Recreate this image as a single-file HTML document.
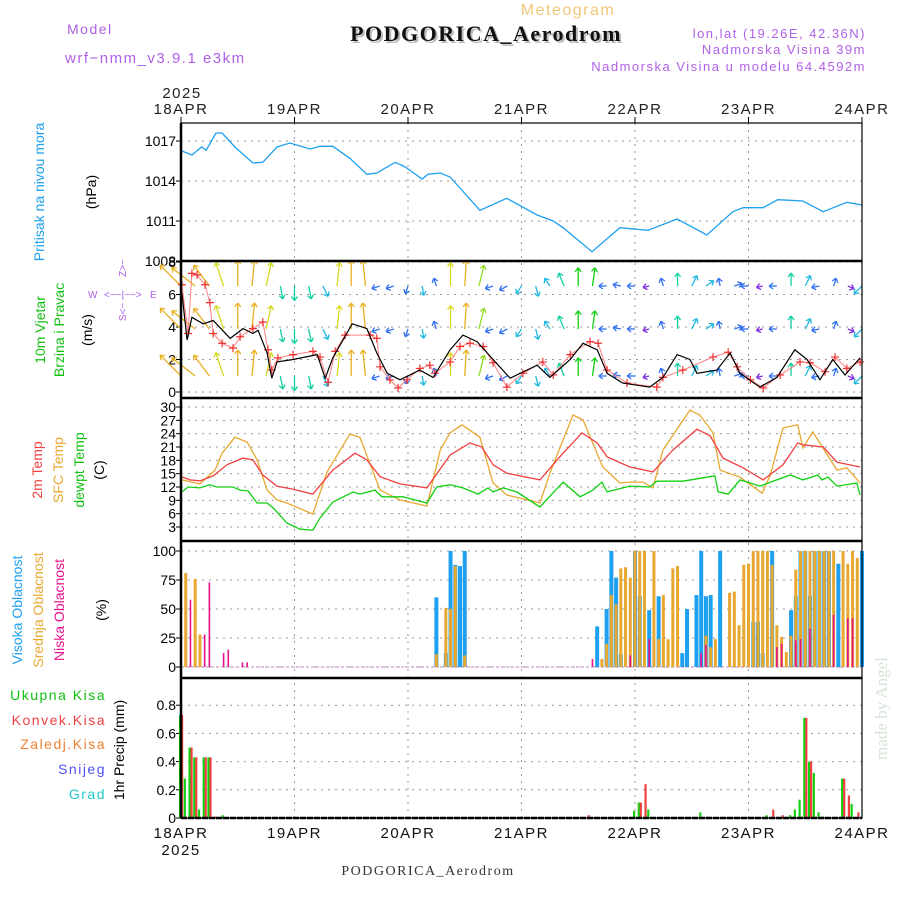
<!DOCTYPE html>
<html><head><meta charset="utf-8"><style>
html,body{margin:0;padding:0;background:#fff;}
svg{display:block;font-family:"Liberation Sans",sans-serif;}
.t{letter-spacing:1.5px;}
</style></head><body>
<svg id="c" width="900" height="900" viewBox="0 0 900 900">
<g>
<text x="67" y="34" fill="#b060e8" font-size="14" class="t">Model</text>
<text x="65" y="63" fill="#b060e8" font-size="15" class="t">wrf−nmm_v3.9.1 e3km</text>
<text x="568" y="15" fill="#f0c878" font-size="16" text-anchor="middle" class="t">Meteogram</text>
<text x="488" y="43" fill="#bbb" font-size="22" font-weight="bold" text-anchor="middle" font-family="Liberation Serif,serif" class="t">PODGORICA_Aerodrom</text>
<text x="486" y="41" fill="#111" font-size="22" font-weight="bold" text-anchor="middle" font-family="Liberation Serif,serif" class="t">PODGORICA_Aerodrom</text>
<text x="866" y="38" fill="#b060e8" font-size="13" text-anchor="end" class="t">lon,lat (19.26E, 42.36N)</text>
<text x="866" y="54" fill="#b060e8" font-size="13" text-anchor="end" class="t">Nadmorska Visina 39m</text>
<text x="866" y="71" fill="#b060e8" font-size="13" text-anchor="end" class="t">Nadmorska Visina u modelu 64.4592m</text>
<text x="428" y="875" fill="#333" font-size="14" text-anchor="middle" font-family="Liberation Serif,serif" class="t">PODGORICA_Aerodrom</text>
<text transform="translate(887,760) rotate(-90)" fill="#d8e4d8" font-size="17" font-family="Liberation Serif,serif">made by Angel</text>
</g>
<g>
<text transform="translate(44,192) rotate(-90)" text-anchor="middle" fill="#1ea0f0" font-size="14">Pritisak na nivou mora</text>
<text transform="translate(96,192) rotate(-90)" text-anchor="middle" fill="#000" font-size="14">(hPa)</text>
<text transform="translate(45,330) rotate(-90)" text-anchor="middle" fill="#10c010" font-size="14">10m Vjetar</text>
<text transform="translate(64,330) rotate(-90)" text-anchor="middle" fill="#10c010" font-size="14">Brzina i Pravac</text>
<text transform="translate(92,330) rotate(-90)" text-anchor="middle" fill="#000" font-size="14">(m/s)</text>
<g fill="#b060e8" font-size="10">
<text x="88" y="298">W</text><text x="104" y="298">&lt;−−|−−&gt;</text><text x="150" y="298">E</text>
<text transform="translate(126,268) rotate(-90)" text-anchor="middle">Z&gt;−</text>
<text transform="translate(126,312) rotate(-90)" text-anchor="middle">S&lt;−</text>
</g>
<text transform="translate(42,470) rotate(-90)" text-anchor="middle" fill="#f04040" font-size="14">2m Temp</text>
<text transform="translate(63,470) rotate(-90)" text-anchor="middle" fill="#e8a830" font-size="14">SFC Temp</text>
<text transform="translate(84,470) rotate(-90)" text-anchor="middle" fill="#10c010" font-size="14">dewpt Temp</text>
<text transform="translate(104,470) rotate(-90)" text-anchor="middle" fill="#000" font-size="14">(C)</text>
<text transform="translate(22,610) rotate(-90)" text-anchor="middle" fill="#1ea0f0" font-size="14">Visoka Oblacnost</text>
<text transform="translate(43,610) rotate(-90)" text-anchor="middle" fill="#e8a830" font-size="14">Srednja Oblacnost</text>
<text transform="translate(64,610) rotate(-90)" text-anchor="middle" fill="#e8108c" font-size="14">Niska Oblacnost</text>
<text transform="translate(106,610) rotate(-90)" text-anchor="middle" fill="#000" font-size="14">(%)</text>
<g font-size="14" text-anchor="end" class="t">
<text x="106" y="700" fill="#10c010">Ukupna Kisa</text>
<text x="106" y="725" fill="#f04040">Konvek.Kisa</text>
<text x="106" y="749" fill="#f08030">Zaledj.Kisa</text>
<text x="106" y="774" fill="#5050f0">Snijeg</text>
<text x="106" y="799" fill="#20c8c8">Grad</text>
</g>
<text transform="translate(124,750) rotate(-90)" text-anchor="middle" fill="#000" font-size="14">1hr Precip (mm)</text>
</g>
<g id="plot"></g>
</svg>
<script>
const pHours=[0.2,2.3,4.4,5.3,7.4,8.7,11.4,15.2,17.3,20.3,23.0,27.3,29.4,32.1,35.7,39.3,41.4,45.3,47.4,51.0,52.2,54.8,56.9,63.2,68.9,75.3,78.7,80.8,86.9,92.8,98.7,104.9,111.2,116.7,118.9,123.1,126.2,131.5,135.8,140.8,144];
const pVals=[1016.25,1015.95,1016.55,1016.3,1017.6,1017.6,1016.55,1015.35,1015.4,1016.55,1016.85,1016.4,1016.6,1016.6,1015.7,1014.5,1014.6,1015.4,1015.05,1014.15,1014.5,1014.6,1014.3,1011.8,1012.7,1011.45,1011.0,1010.5,1008.7,1010.5,1010.3,1011.15,1009.95,1011.7,1012.0,1012.0,1012.6,1012.5,1011.7,1012.4,1012.2];
const wsHours=[0.2,1.3,2.3,4.7,6.8,10.4,13.1,15.2,16.3,18.2,19.2,20.3,23.7,28.8,30.5,32.1,36.2,39.3,41.4,43.6,46.3,50.5,53.3,56.9,59.6,62.6,66.0,69.6,75.3,78.0,82.3,85.0,88.0,90.1,93.4,99.1,101.9,104.9,107.6,109.1,113.3,116.1,118.2,122.4,126.0,129.8,132.4,135.1,137.8,140.4,143.6];
const wsVals=[6.1,3.2,4.6,4.2,4.4,3.3,3.9,3.6,3.8,2.4,0.85,1.85,2.0,2.3,0.85,2.1,4.2,3.9,2.4,1.15,0.75,1.35,0.9,2.6,3.5,3.1,2.0,0.85,1.65,0.9,2.0,3.0,2.6,1.15,0.55,0.3,0.9,2.3,2.0,1.15,1.35,2.4,1.15,0.3,0.9,2.6,2.0,0.75,2.0,1.05,2.1];
const gHours=[0.2,1.5,2.3,3.4,5.1,6.1,6.8,8.7,11.0,12.5,15.2,17.3,18.4,19.2,20.5,23.7,27.9,29.4,31.1,32.6,34.7,40.0,41.4,42.1,44.2,45.9,47.8,50.5,52.6,53.7,56.9,59.0,61.1,63.9,66.0,68.9,72.3,76.5,78.7,82.3,86.5,88.2,90.1,94.3,100.6,101.9,106.1,112.5,115.7,117.6,120.4,123.1,126.7,130.9,133.0,136.2,138.3,140.8,143.6];
const gVals=[6.6,3.6,7.3,7.2,6.6,5.5,3.6,3.0,2.7,3.4,3.9,4.3,2.6,1.35,2.1,2.3,2.5,2.15,0.6,2.5,3.5,3.5,3.3,1.55,0.75,0.25,0.75,1.45,1.65,1.15,1.85,2.8,3.0,2.8,1.8,0.3,1.15,1.85,1.05,2.3,3.1,3.0,1.35,0.55,0.3,0.9,1.35,2.15,2.45,1.55,0.75,0.25,1.05,1.85,1.8,1.25,2.15,1.45,1.85];
const windU=[-4,-4.5,-3,-1.5,0,0.5,1,0.5,0,0.5,1,0.5,0,-0.5,-1.5,-1.5,-0.5,0.3,-0.5,0,0.3,1,-1.5,-1.5,-1,0.5,-1,-1,0,0.5,-1.5,-1.5,-1.5,-1.2,-0.5,0,1,1.5,-0.3,1.5,-1.5,-1.2,-1.5,0,1,-1.5,0.5,1.2,-1.5];
const windV=[4,3.5,4,4.5,5,5,4.5,-2.5,-2.8,-2.5,-2,4.5,5,5,-0.5,-0.5,-1.5,-1.8,1.5,4.5,5,4,-0.5,-0.8,-1.5,-2,1.5,2.5,3.5,3.5,0,0.3,0,-0.3,1.5,2.5,2,1,1.5,0.5,0,-0.3,0,2.5,2,-0.3,1.5,-0.5,-1.5];
const t2Hours=[0.2,1.9,4.0,6.8,9.7,13.1,15.2,17.3,20.3,23.7,27.9,32.1,36.8,39.3,42.1,46.3,52.0,56.9,61.1,63.6,66.0,68.9,75.9,80.1,84.8,88.0,90.1,94.9,99.8,104.0,109.1,111.9,114.6,118.9,123.1,127.3,130.4,131.5,135.8,138.7,143.6];
const t2Vals=[14.25,13.6,13.4,14.5,17,18.5,18.1,14.7,12.2,11.5,10.4,15.8,19.6,18.1,14.3,12.7,11.8,19.2,21.9,21,17,15.1,13.6,18.8,24.2,21.9,18.8,16.5,15.4,20.3,25,23.5,18.5,16.3,13.6,17,21.9,21.5,21,17.6,16.5];
const sfcHours=[0.2,4.0,7.2,8.7,11.4,14.0,16.1,18.2,20.3,22.4,27.9,30.9,35.7,37.8,42.1,46.3,52.0,54.8,56.9,59.4,63.2,66.0,68.9,75.9,78.0,82.9,85.0,89.2,92.8,94.9,97.7,99.8,101.9,107.6,109.7,112.5,114.0,118.2,122.9,124.6,127.3,130.4,131.5,133.6,135.1,138.7,140.8,143.6];
const sfcVals=[13.6,12.7,15.8,19.6,23.2,22.1,18.1,11.3,9.1,8.4,5.9,15.4,23.9,23.2,11.3,9.1,7.7,20.3,24.2,26,23.2,12.9,10.2,8.4,15.1,28.2,27.1,16.5,12.9,13.1,13.1,11.8,20.3,29.3,28.2,24.2,15.8,14.2,10.6,14.7,25.3,26,20.8,24.4,21.9,15.8,16.3,12.9];
const tdHours=[0.2,1.5,4.0,6.1,7.6,11.0,12.5,14.2,16.1,18.2,19.5,22.4,25.2,27.9,29.4,32.1,36.4,37.8,41.0,42.5,46.9,52.0,54.1,56.9,59.6,62.8,64.9,66.0,68.1,71.0,75.9,80.8,84.4,87.1,89.0,90.1,94.9,99.1,100.6,106.1,111.2,112.9,113.6,115.7,118.2,122.4,128.8,131.5,134.7,135.5,136.8,138.7,142.9,143.6];
const tdVals=[10.9,12,11.8,12.5,12,12,11.3,11.1,8.4,8.4,7.3,3.9,2.5,2.3,5,8.6,10.9,10.4,11.3,9.8,9.8,8.4,12,12.5,11.8,10.4,11.8,10.9,11.8,10.9,7.5,13.1,9.8,11.3,13.1,10.9,12.2,12,13.3,13.3,14.2,14.5,10.9,10.4,13.6,12.2,14.7,13.6,14.7,13.6,14.2,12.2,12.9,10.2];
const cloudHigh=[[54,60],[56,12],[57,100],[58,88],[59,87],[60,100],[88,35],[90,50],[91,100],[92,77],[93,11],[96,100],[97,61],[99,49],[101,61],[106,12],[107,50],[109,62],[110,100],[111,61],[112,62],[114,100],[121,39],[122,39],[123,12],[125,100],[129,49],[130,61],[131,100],[132,100],[133,61],[134,100],[135,100],[136,100],[137,100],[139,89],[144,100]];
const cloudMid=[[1,81],[3,76],[4,28],[54,11],[56,51],[57,50],[58,87],[60,10],[89,7],[90,20],[91,62],[92,54],[93,85],[94,86],[95,77],[96,100],[97,100],[98,100],[100,100],[101,24],[102,62],[103,24],[104,85],[105,87],[111,27],[112,17],[113,24],[116,64],[117,65],[118,36],[119,88],[120,89],[121,100],[122,100],[123,100],[124,100],[125,88],[126,36],[127,26],[128,13],[129,27],[130,84],[131,100],[132,100],[133,100],[134,100],[135,100],[136,100],[137,100],[138,100],[140,100],[141,89],[142,100],[143,94]];
const cloudLow=[[2,58],[5,28],[6,73],[9,12],[10,15],[13,4],[14,4],[87,7],[95,10],[99,24],[110,12],[111,19],[126,17],[127,20],[130,23],[131,24],[133,33],[138,45],[141,42],[142,42]];
const precipTotal=[[0,0.73],[1,0.28],[2,0.5],[3,0.43],[4,0.06],[5,0.43],[6,0.43],[9,0.02],[96,0.05],[97,0.11],[99,0.06],[110,0.04],[124,0.02],[129,0.02],[130,0.06],[131,0.13],[132,0.71],[133,0.40],[134,0.32],[135,0.04],[136,0.01],[140,0.28],[142,0.10]];
const precipConv=[[0,0.73],[2,0.5],[3,0.43],[5,0.43],[6,0.43],[7,0.01],[86,0.02],[97,0.11],[98,0.24],[111,0.01],[125,0.06],[127,0.02],[132,0.71],[133,0.40],[140,0.28],[141,0.16],[143,0.04]];
const dayLabels=["18APR","19APR","20APR","21APR","22APR","23APR","24APR"];
const pTicks=[1017,1014,1011,1008];
const wTicks=[0,2,4,6,8];
const tTicks=[3,6,9,12,15,18,21,24,27,30];
const cTicks=[0,25,50,75,100];
const rTicks=[0,0.2,0.4,0.6,0.8];

const NS="http://www.w3.org/2000/svg";
const L=181,R=862;
const X=h=>L+h*(R-L)/144;
const yP=p=>261-(p-1008)*120/9;
const yW=s=>392-s*16.25;
const yT=t=>527-(t-3)*120/27;
const yC=c=>667-c*1.16;
const yR=r=>818-r*141;
const plot=document.getElementById('plot');
function mk(tag,attrs,parent){const e=document.createElementNS(NS,tag);for(const k in attrs)e.setAttribute(k,attrs[k]);(parent||plot).appendChild(e);return e;}
function grp(name){const g=mk('g',{});return g;}

const panels=[[123,261],[261,398],[398,541],[541,678],[678,818]];
// grids
const grid=grp('grid');
for(let d=1;d<6;d++){const gl=mk('line',{x1:X(d*24),x2:X(d*24),y1:123,y2:818,stroke:'#999','stroke-dasharray':'2,5'},grid);}
function hgrid(ticks,f){ticks.forEach(v=>{const y=f(v);mk('line',{x1:L,x2:R,y1:y,y2:y,stroke:'#999','stroke-dasharray':'2,5'},grid);});}
hgrid(pTicks,yP);hgrid(wTicks,yW);hgrid(tTicks,yT);hgrid(cTicks,yC);hgrid(rTicks,yR);
// tick labels
function ylabels(ticks,f,name,fmt){const g=grp(name);ticks.forEach(v=>{const y=f(v);
const t=mk('text',{x:176,y:y+5,'text-anchor':'end','font-size':14,fill:'#000'},g);t.textContent=fmt?fmt(v):v;
mk('line',{x1:L-5,x2:L,y1:y,y2:y,stroke:'#000'},g);});}
ylabels(pTicks,yP,'pressure-y-ticks');ylabels(wTicks,yW,'wind-y-ticks');ylabels(tTicks,yT,'temp-y-ticks');
ylabels(cTicks,yC,'cloud-y-ticks');ylabels(rTicks,yR,'precip-y-ticks',v=>v===0?'0':v.toFixed(1));
// x labels
const xt=grp('x-axis-top'),xb=grp('x-axis-bottom');
dayLabels.forEach((d,i)=>{const x=X(i*24);
let t=mk('text',{x:x,y:114,'text-anchor':'middle','font-size':15,fill:'#222',class:'t'},xt);t.textContent=d;
mk('line',{x1:x,x2:x,y1:117,y2:123,stroke:'#000'},xt);
t=mk('text',{x:x,y:838,'text-anchor':'middle','font-size':15,fill:'#111',class:'t'},xb);t.textContent=d;});
let ty=mk('text',{x:182,y:98,'text-anchor':'middle','font-size':15,fill:'#222',class:'t'},xt);ty.textContent='2025';
ty=mk('text',{x:181,y:855,'text-anchor':'middle','font-size':15,fill:'#111',class:'t'},xb);ty.textContent='2025';

function line(hs,vs,f,color,name,w){let d='';hs.forEach((h,i)=>{d+=(i?'L':'M')+X(h).toFixed(1)+','+f(vs[i]).toFixed(1);});
const p=mk('path',{d:d,fill:'none',stroke:color,'stroke-width':w||1.3});return p;}
line(pHours,pVals,yP,'#1ea0f0','pressure-line');

// wind arrows
function wcol(m){return m>=4.8?'#e8b020':m>=4.2?'#d8d820':m>=3.6?'#90dc20':m>=3?'#10d010':m>=2.4?'#10d0a0':m>=1.8?'#20b8e0':m>=1.4?'#3070f0':'#8030e0';}
const wg=grp('wind-arrows');
[286,329,376].forEach(by=>{windU.forEach((u,i)=>{const v=windV[i];const m=Math.hypot(u,v);const c=wcol(m);
const x0=X(i*3),x1=x0+u*5.2,y1=by-v*5.2;const a=mk('line',{x1:x0,y1:by,x2:x1,y2:y1,stroke:c,'stroke-width':1.3},wg);


const ang=Math.atan2(y1-by,x1-x0);
[2.6,-2.6].forEach(o=>{mk('line',{x1:x1,y1:y1,x2:x1-5*Math.cos(ang+o*0.25),y2:y1-5*Math.sin(ang+o*0.25),stroke:c,'stroke-width':1.3},wg);});
});});
line(gHours,gVals,yW,'#ff8080','gust-line',1);
const gm=grp('gust-markers');
gHours.forEach((h,i)=>{const x=X(h),y=yW(gVals[i]);const p=mk('path',{d:`M${x-4},${y}H${x+4}M${x},${y-4}V${y+4}`,stroke:'#f03030','stroke-width':1.2},gm);

});
line(wsHours,wsVals,yW,'#000','wind-speed-line',1.2);

line(sfcHours,sfcVals,yT,'#e8a830','sfc-temp-line');
line(t2Hours,t2Vals,yT,'#f04040','temp2m-line');
line(tdHours,tdVals,yT,'#10d010','dewpt-line');

// clouds
const cg=grp('cloud-bars');
mk('line',{x1:L,x2:R,y1:yC(0),y2:yC(0),stroke:'#c080c0','stroke-width':1,'stroke-dasharray':'3,2'},cg);
function bars(arr,f,color,w,off,name){arr.forEach(([h,v])=>{const x=X(h)+off;const y=f(v);const b=mk('rect',{x:x,y:y,width:w,height:f(0)-y,fill:color},cg);

});}
bars(cloudHigh,yC,'#1ea0f0',4,-2,'high-cloud-bar');
bars(cloudMid,yC,'#e8a830',3,-1.5,'mid-cloud-bar');
bars(cloudLow,yC,'#e8108c',1.6,-0.8,'low-cloud-bar');
// precip
precipTotal.forEach(([h,v])=>{const x=X(h)-2;const y=yR(v);const b=mk('rect',{x:x,y:y,width:2.2,height:yR(0)-y,fill:'#10d010'});

});
precipConv.forEach(([h,v])=>{const x=X(h);const y=yR(v);const b=mk('rect',{x:x,y:y,width:2.2,height:yR(0)-y,fill:'#f04040'});

});

// frames
const fr=grp('panel-frames');
panels.forEach(([a,b],i)=>{mk('rect',{x:L,y:a,width:R-L,height:b-a,fill:'none',stroke:'#000','stroke-width':1.2},fr);
if(i>0)mk('line',{x1:L,x2:R,y1:a,y2:a,stroke:'#000','stroke-width':2.5},fr);});
mk('line',{x1:L,x2:L,y1:123,y2:818,stroke:'#000','stroke-width':2.5},fr);
mk('line',{x1:L,x2:R,y1:818,y2:818,stroke:'#000','stroke-width':2.5,'stroke-dasharray':'6,1'},fr);
</script>
</body></html>
